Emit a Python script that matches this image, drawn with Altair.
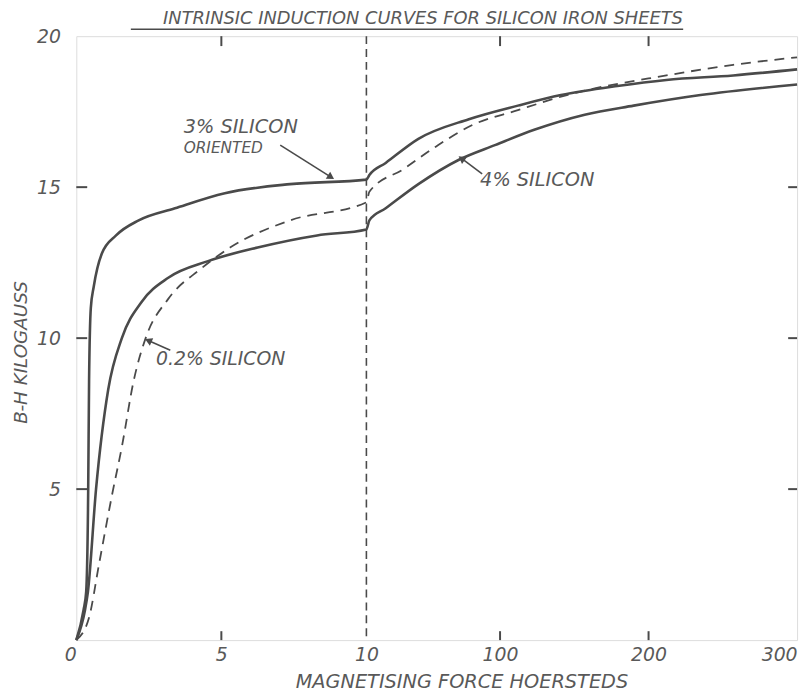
import altair as alt
import pandas as pd

# ---------------- data ----------------
# 3% silicon, oriented (solid, upper)
h_3pc = [0, 0.25, 0.34, 0.41, 0.44, 0.5, 0.6, 0.88, 1.37, 2.15, 3.4, 5.12, 7.37, 10,
         12, 23, 45, 79, 112, 141, 179, 212, 257, 300]
b_3pc = [0, 1.0, 1.6, 5.0, 8.6, 11.0, 11.7, 12.8, 13.4, 13.9, 14.3, 14.8, 15.1, 15.25,
         15.4, 15.8, 16.6, 17.25, 17.7, 18.05, 18.35, 18.55, 18.7, 18.9]
# 4% silicon (solid, lower)
h_4pc = [0, 0.3, 0.4, 0.68, 1.1, 1.57, 2.25, 3.17, 4.54, 6.25, 8.3, 10,
         12, 23, 45, 72, 97, 123, 157, 190, 235, 300]
b_4pc = [0, 1.0, 1.6, 5.0, 8.3, 10.0, 11.2, 12.0, 12.55, 13.0, 13.4, 13.6,
         13.9, 14.3, 15.1, 15.9, 16.4, 16.9, 17.4, 17.7, 18.05, 18.4]
# 0.2% silicon (dashed)
h_02pc = [0, 0.44, 0.78, 1.23, 1.57, 1.98, 2.39, 3.17, 4.3, 5.3, 7.37, 10,
          12, 35, 57, 81, 112, 145, 212, 257, 300]
b_02pc = [0, 0.75, 2.5, 4.8, 6.4, 8.6, 10.0, 11.3, 12.3, 13.0, 13.9, 14.5,
          14.85, 15.6, 16.35, 17.05, 17.55, 18.05, 18.7, 19.05, 19.3]

x_tick_values = [0, 5, 10, 100, 200, 300]
x_tick_labels = ["0", "5", "10", "100", "200", "300"]
y_tick_values = [5, 10, 15, 20]
inner_x_ticks = [5, 100, 200]
inner_y_ticks = [5, 10, 15]
change_of_scale = 10
title_text = "INTRINSIC INDUCTION CURVES  FOR SILICON IRON SHEETS"

# ---------------- broken x scale (linear 0-10, compressed 10-300) ----------------
K = 1.5 / 29.3


def to_u(h):
    return h if h <= 10 else 10 + (h - 10) * K


XMAX = to_u(300)

rows = []
for name, hs, bs in [("3% oriented", h_3pc, b_3pc), ("4%", h_4pc, b_4pc), ("0.2%", h_02pc, b_02pc)]:
    for i, (h, b) in enumerate(zip(hs, bs)):
        rows.append({"series": name, "H": h, "u": to_u(h), "B": b, "order": i})
curves = pd.DataFrame(rows)

INK = "#4a4a4a"
TXT = "#595959"
FONT = "DejaVu Sans"

W, HT = 728, 610
xs = alt.Scale(domain=[0, XMAX], nice=False, zero=False)
ys = alt.Scale(domain=[0, 20], nice=False)

label_expr = ""
for v, lab in zip(x_tick_values, x_tick_labels):
    label_expr += f"abs(datum.value - {to_u(v):.5f}) < 0.01 ? '{lab}' : "
label_expr += "''"

x_axis = alt.Axis(
    values=[to_u(v) for v in x_tick_values], labelExpr=label_expr,
    ticks=False, domain=False, grid=False, labelFlush=False,
    labelAlign={"condition": {"test": "datum.value > 24 || datum.value < 0.5", "value": "right"}, "value": "center"},
    labelFont=FONT, labelFontSize=19, labelFontStyle="italic", labelColor=TXT, labelPadding=6,
    title="MAGNETISING FORCE HOERSTEDS", titleFont=FONT, titleFontSize=19.5, titleFontStyle="italic",
    titleFontWeight="normal", titleColor=TXT, titleX=389, titlePadding=8,
)
y_axis = alt.Axis(
    values=y_tick_values, ticks=False, domain=False, grid=False, labelFlush=False,
    labelFont=FONT, labelFontSize=19, labelFontStyle="italic", labelColor=TXT, labelPadding=16,
    title="B-H KILOGAUSS", titleFont=FONT, titleFontSize=18.5, titleFontStyle="italic",
    titleFontWeight="normal", titleColor=TXT, titleX=-56, titleY=319,
    titleAlign="center", titleBaseline="middle", titleAngle=270,
)

base = alt.Chart(curves)

solid = base.transform_filter("datum.series != '0.2%'").mark_line(
    color=INK, strokeWidth=2.6, interpolate="monotone"
).encode(
    x=alt.X("u:Q", scale=xs, axis=x_axis),
    y=alt.Y("B:Q", scale=ys, axis=y_axis),
    detail="series:N", order="order:Q",
)
dashed = base.transform_filter("datum.series == '0.2%'").mark_line(
    color=INK, strokeWidth=1.8, strokeDash=[10, 7], interpolate="monotone"
).encode(x=alt.X("u:Q", scale=xs), y=alt.Y("B:Q", scale=ys), order="order:Q")

vline = alt.Chart(pd.DataFrame({"u": [to_u(change_of_scale)]})).mark_rule(
    color=INK, strokeWidth=1.6, strokeDash=[8, 5]
).encode(x=alt.X("u:Q", scale=xs))

# inward tick marks on the frame
xt = pd.DataFrame({"u": [to_u(v) for v in inner_x_ticks]})
yt = pd.DataFrame({"B": inner_y_ticks})
tick_bottom = alt.Chart(xt).mark_rule(color=INK, strokeWidth=2).encode(
    x=alt.X("u:Q", scale=xs), y=alt.value(HT), y2=alt.value(HT - 9))
tick_top = alt.Chart(xt).mark_rule(color=INK, strokeWidth=2).encode(
    x=alt.X("u:Q", scale=xs), y=alt.value(0), y2=alt.value(10))
tick_left = alt.Chart(yt).mark_rule(color=INK, strokeWidth=2).encode(
    y=alt.Y("B:Q", scale=ys), x=alt.value(0), x2=alt.value(11))
tick_right = alt.Chart(yt).mark_rule(color=INK, strokeWidth=2).encode(
    y=alt.Y("B:Q", scale=ys), x=alt.value(W), x2=alt.value(W - 9))

# annotations (positions in data space)
notes = pd.DataFrame({
    "text": ["3% SILICON", "ORIENTED", "4% SILICON", "0.2% SILICON"],
    "u": [3.70, 3.70, 13.92, 2.75],
    "B": [16.98, 16.30, 15.25, 9.31],
    "size": [19.5, 15.5, 19.5, 19],
})
note_marks = alt.Chart(notes).mark_text(
    align="left", baseline="middle", font=FONT, fontStyle="italic", color=TXT
).encode(
    x=alt.X("u:Q", scale=xs), y=alt.Y("B:Q", scale=ys), text="text:N",
    size=alt.Size("size:Q", scale=None, legend=None),
)

arrows = pd.DataFrame({
    "u": [7.03, 13.99, 3.24],
    "B": [16.39, 15.44, 9.60],
    "u2": [8.78, 13.28, 2.48],
    "B2": [15.33, 15.95, 9.92],
    "ang": [122.4, 306.0, 293.5],
})
arrow_lines = alt.Chart(arrows).mark_rule(color=INK, strokeWidth=1.6).encode(
    x=alt.X("u:Q", scale=xs), y=alt.Y("B:Q", scale=ys), x2="u2:Q", y2="B2:Q")
arrow_heads = alt.Chart(arrows).mark_point(
    shape="triangle-up", filled=True, color=INK, opacity=1, size=70
).encode(
    x=alt.X("u2:Q", scale=xs), y=alt.Y("B2:Q", scale=ys),
    angle=alt.Angle("ang:Q", scale=None),
)

# title (as text) with its underline, placed above the frame
title_df = pd.DataFrame({"text": [title_text], "u": [11.95], "u1": [1.88], "u2": [20.92]})
title_mark = alt.Chart(title_df).mark_text(
    font=FONT, fontSize=18, fontStyle="italic", color=TXT, baseline="alphabetic", align="center"
).encode(x=alt.X("u:Q", scale=xs), y=alt.value(-12), text="text:N")
underline = alt.Chart(title_df).mark_rule(color=INK, strokeWidth=1.6).encode(
    x=alt.X("u1:Q", scale=xs), x2="u2:Q", y=alt.value(-7))

chart = alt.layer(
    solid, dashed, vline, tick_bottom, tick_top, tick_left, tick_right,
    note_marks, arrow_lines, arrow_heads, title_mark, underline,
).properties(
    width=W, height=HT,
    autosize=alt.AutoSizeParams(type="none"),
    padding={"left": 69, "top": 25, "right": 7, "bottom": 53},
).configure_view(stroke=INK, strokeWidth=2.5).configure(background="white")

chart.save("out.html", embed_options={"renderer": "svg", "actions": False})
